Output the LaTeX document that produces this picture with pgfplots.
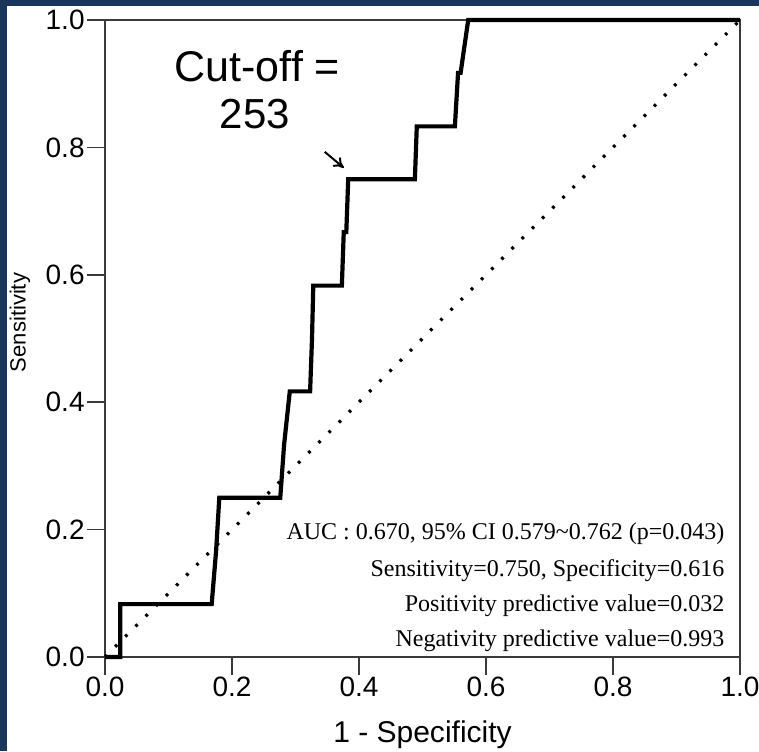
\documentclass[border=0pt]{standalone}
\usepackage{pgfplots}
\pgfplotsset{compat=1.18}
\usepackage{fontspec}
\setmainfont{Liberation Sans}
\newfontfamily\timesfont{Liberation Serif}
\usetikzlibrary{arrows.meta}
\definecolor{slidenavy}{HTML}{1B365D}
\definecolor{framegray}{HTML}{3A3A3A}

% ROC curve points (1 - specificity, sensitivity)
\pgfplotstableread{
fpr    tpr
0.000  0.000
0.024  0.000
0.024  0.083
0.168  0.083
0.175  0.167
0.180  0.250
0.276  0.250
0.282  0.333
0.291  0.417
0.323  0.417
0.326  0.500
0.328  0.583
0.373  0.583
0.376  0.667
0.380  0.667
0.383  0.750
0.488  0.750
0.491  0.833
0.551  0.833
0.556  0.917
0.560  0.917
0.572  1.000
1.000  1.000
}\roctable

\begin{document}
\begin{tikzpicture}
\useasboundingbox (0,0) rectangle (379.5pt,375.5pt);
\fill[slidenavy] (0,0) rectangle (379.5pt,375.5pt);
\fill[white] (3.5pt,0) rectangle (379.5pt,372.5pt);
\begin{axis}[
  at={(52.5pt,47pt)}, anchor=south west,
  width=317.5pt, height=318.5pt, scale only axis,
  xmin=0, xmax=1, ymin=0, ymax=1,
  xtick={0,0.2,0.4,0.6,0.8,1.0},
  ytick={0,0.2,0.4,0.6,0.8,1.0},
  tick pos=left, tick align=outside,
  major tick length=9pt,
  axis line style={framegray, line width=0.8pt},
  tick style={framegray, line width=0.8pt},
  xticklabel style={font=\fontsize{14}{16}\selectfont, inner sep=1pt},
  yticklabel style={font=\fontsize{14}{16}\selectfont, inner sep=1pt},
  /pgf/number format/.cd, fixed, fixed zerofill, precision=1, assume math mode=true,
  /pgfplots/.cd,
  xlabel={1 - Specificity},
  ylabel={Sensitivity},
  xlabel style={font=\fontsize{15}{17}\selectfont, at={(axis description cs:0.5,0)}, anchor=center, yshift=-39pt},
  ylabel style={font=\fontsize{11}{13}\selectfont, at={(axis description cs:0,0.5)}, anchor=center, xshift=8pt, yshift=42.5pt},
  clip=false,
]
% chance line
\addplot[black, line width=1.6pt, dash pattern=on 1.4pt off 5.8pt] coordinates {(0,0) (1,1)};
% ROC curve
\addplot[black, line width=2.1pt, line join=miter] table[x=fpr, y=tpr] {\roctable};
% cut-off annotation
\node[font=\fontsize{21.5}{23}\selectfont, anchor=base] at (axis cs:0.240,0.903) {Cut-off =};
\node[font=\fontsize{21}{23}\selectfont, anchor=base] at (axis cs:0.236,0.830) {253};
\draw[black, line width=1pt, -{To[length=5pt,width=6pt]}] (axis cs:0.346,0.793) -- (axis cs:0.376,0.768);
% summary statistics
\node[font=\timesfont\fontsize{12}{15}\selectfont, anchor=base east, inner sep=0pt] at (axis cs:0.976,0.184) {AUC : 0.670, 95\% CI 0.579\textasciitilde 0.762 (p=0.043)};
\node[font=\timesfont\fontsize{12}{15}\selectfont, anchor=base east, inner sep=0pt] at (axis cs:0.976,0.127) {Sensitivity=0.750, Specificity=0.616};
\node[font=\timesfont\fontsize{12}{15}\selectfont, anchor=base east, inner sep=0pt] at (axis cs:0.976,0.071) {Positivity predictive value=0.032};
\node[font=\timesfont\fontsize{12}{15}\selectfont, anchor=base east, inner sep=0pt] at (axis cs:0.976,0.016) {Negativity predictive value=0.993};
\end{axis}
\end{tikzpicture}
\end{document}
